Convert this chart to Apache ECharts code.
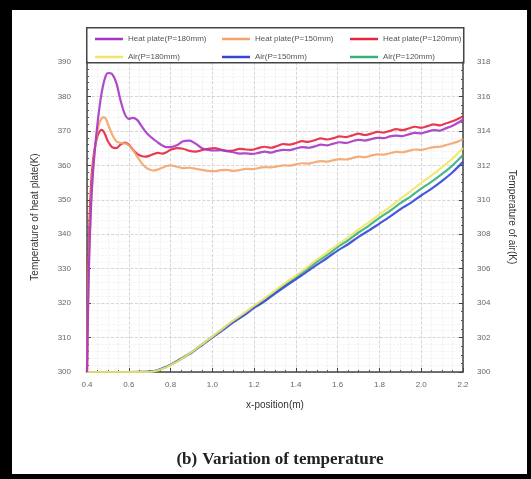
<!DOCTYPE html>
<html><head><meta charset="utf-8">
<script src="https://cdn.jsdelivr.net/npm/echarts@6/dist/echarts.min.js"></script>
<style>
html,body{margin:0;padding:0;background:#000;width:531px;height:479px;overflow:hidden;}
#c{position:absolute;left:12px;top:10px;width:515px;height:464px;background:#fff;}
</style></head>
<body><div id="c"></div>
<script>
const seriesNames = ['Heat plate(P=180mm)','Heat plate(P=150mm)','Heat plate(P=120mm)','Air(P=180mm)','Air(P=150mm)','Air(P=120mm)'];
const xHeat = [0.40,0.405,0.41,0.42,0.43,0.44,0.45,0.46,0.47,0.48,0.49,0.50,0.52,0.54,0.56,0.58,0.60,0.62,0.64,0.66,0.68,0.70,0.72,0.74,0.76,0.78,0.80,0.83,0.86,0.89,0.92,0.95,0.98,1.01,1.04,1.07,1.10,1.13,1.16,1.19,1.22,1.25,1.28,1.31,1.34,1.37,1.40,1.43,1.46,1.49,1.52,1.55,1.58,1.61,1.64,1.67,1.70,1.73,1.76,1.79,1.82,1.85,1.88,1.91,1.94,1.97,2.00,2.03,2.06,2.09,2.12,2.15,2.18,2.20];
const heat180 = [300,318,332,349,359,366,372,377,381,384,386,386.8,386.5,384,379,375,373.5,373.8,373.2,371.5,369.8,368.5,367.5,366.6,365.8,365.3,365.3,365.8,367,367.2,366.3,365,364.5,364.3,364.4,364.1,363.8,363.4,363.5,363.3,363.6,364,363.7,364.2,364.5,364.4,364.9,365.3,365.1,365.5,366,365.8,366.3,366.7,366.5,367,367.4,367.2,367.6,368,367.9,368.4,368.6,368.5,369,369.4,369.3,369.8,370.2,370.1,370.8,371.5,372.5,373.3];
const heat150 = [300,320,334,350,360,366,370,372.5,373.6,374,373.5,372,369,367,366.5,366.4,365.8,364.5,362.5,360.8,359.5,358.8,358.5,358.8,359.3,359.8,360,359.6,359.2,359.3,359,358.7,358.4,358.3,358.6,358.7,358.4,358.6,359,358.9,359.2,359.5,359.4,359.7,360,359.9,360.3,360.6,360.5,360.9,361.2,361.1,361.5,361.8,361.7,362.1,362.5,362.4,362.8,363.2,363.1,363.5,363.9,363.8,364.2,364.6,364.5,364.9,365.3,365.4,365.9,366.4,367,367.6];
const heat120 = [300,325,340,355,362,366,368.5,369.8,370.3,369.8,368.5,367,365.3,365,366,366.6,366,364.5,363.3,362.7,362.5,362.8,363.3,363.6,363.4,363.8,364.5,365,364.8,364.2,364,364.4,364.8,365,364.6,364.2,364.3,364.8,364.6,364.5,365,365.4,365.1,365.6,366.2,366,366.5,367,366.8,367.3,367.8,367.5,367.9,368.4,368.2,368.7,369.2,368.8,369.2,369.7,369.5,370,370.5,370.2,370.7,371.2,370.9,371.4,371.9,371.6,372.2,372.8,373.6,374.3];
const xAir = [0.40,0.50,0.60,0.70,0.74,0.78,0.82,0.86,0.90,0.95,1.00,1.05,1.10,1.15,1.20,1.25,1.30,1.35,1.40,1.45,1.50,1.55,1.60,1.65,1.70,1.75,1.80,1.85,1.90,1.95,2.00,2.05,2.10,2.15,2.20];
const air180 = [300,300,300,300,300.1,300.28,300.52,300.82,301.15,301.6,302.05,302.52,302.98,303.4,303.85,304.28,304.72,305.18,305.6,306.05,306.52,306.95,307.4,307.82,308.28,308.7,309.15,309.58,310.05,310.5,310.98,311.42,311.9,312.4,313.0];
const air150 = [300,300,300,300.02,300.12,300.3,300.55,300.83,301.12,301.55,302,302.43,302.88,303.28,303.72,304.1,304.55,304.98,305.38,305.8,306.22,306.62,307.05,307.42,307.85,308.22,308.62,309.02,309.45,309.82,310.25,310.65,311.1,311.6,312.2];
const air120 = [300,300,300,300.02,300.12,300.3,300.55,300.85,301.15,301.6,302.05,302.5,302.95,303.35,303.8,304.2,304.65,305.1,305.5,305.95,306.4,306.8,307.25,307.65,308.1,308.5,308.95,309.35,309.8,310.2,310.65,311.05,311.5,312.0,312.6];
const colors = ['#a636c4','#f4a46a','#e6263f','#f2e46a','#3446d6','#34b27a'];

const pair = (xs, ys) => xs.map((x, i) => [x, ys[i]]);
const chart = echarts.init(document.getElementById('c'));
const dataSets = [pair(xHeat, heat180), pair(xHeat, heat150), pair(xHeat, heat120), pair(xAir, air180), pair(xAir, air150), pair(xAir, air120)];
const legendPos = [[78,20],[205,20],[333,20],[78,38],[205,38],[333,38]];
const lbl = {color:'#666', fontSize:8, fontFamily:'Liberation Sans, Arial, sans-serif'};
const axLine = {show:true, lineStyle:{color:'#444', width:1.5}};
chart.setOption({
  animation:false,
  color: colors,
  title:{
    text:'{b|(b)} {n|Variation of temperature}',
    left:263, top:436, textAlign:'center',
    textStyle:{rich:{
      b:{fontFamily:'Liberation Serif, Times New Roman, serif', fontWeight:'bold', fontSize:17, color:'#222'},
      n:{fontFamily:'Liberation Serif, Times New Roman, serif', fontSize:17, color:'#222'}
    }}
  },
  legend: seriesNames.map((n, i) => ({
    data:[n], left:legendPos[i][0], top:legendPos[i][1], icon:'rect', itemWidth:28, itemHeight:2.5, itemGap:4,
    textStyle:{color:'#555', fontSize:8, fontFamily:'Liberation Sans, Arial, sans-serif'}
  })),
  graphic:[{type:'rect', left:74, top:17, shape:{width:377, height:35},
    style:{fill:'rgba(0,0,0,0)', stroke:'#444', lineWidth:1.5}, z:100}],
  grid:{left:75, right:64, top:52, bottom:102},
  xAxis:{type:'value', min:0.4, max:2.2, interval:0.2, name:'x-position(m)', nameLocation:'middle', nameGap:28,
    nameTextStyle:{color:'#333', fontSize:10, fontFamily:'Liberation Sans, Arial, sans-serif'},
    axisLine:axLine, axisTick:{inside:true, length:4, lineStyle:{color:'#444'}},
    minorTick:{show:true, splitNumber:4, length:2, lineStyle:{color:'#555'}},
    axisLabel:Object.assign({margin:9, formatter:v=>v.toFixed(1)}, lbl),
    splitLine:{show:true, lineStyle:{color:'#ccc', type:'dashed', width:0.8}},
    minorSplitLine:{show:true, lineStyle:{color:'#e8e8e8', type:'dashed', width:0.6}}
  },
  yAxis:[
    {type:'value', min:300, max:390, interval:10, name:'Temperature of heat plate(K)', nameLocation:'middle', nameGap:47,
     nameTextStyle:{color:'#333', fontSize:10, fontFamily:'Liberation Sans, Arial, sans-serif'},
     axisLine:axLine, axisTick:{inside:true, length:4, lineStyle:{color:'#444'}},
     minorTick:{show:true, splitNumber:5, length:2, lineStyle:{color:'#555'}},
     axisLabel:Object.assign({margin:16}, lbl),
     splitLine:{show:true, lineStyle:{color:'#ccc', type:'dashed', width:0.8}},
     minorSplitLine:{show:true, lineStyle:{color:'#ececec', type:'dashed', width:0.6}}},
    {type:'value', min:300, max:318, interval:2, position:'right', name:'Temperature of air(K)', nameLocation:'middle', nameGap:44, nameRotate:-90,
     nameTextStyle:{color:'#333', fontSize:10, fontFamily:'Liberation Sans, Arial, sans-serif'},
     axisLine:axLine, axisTick:{inside:true, length:4, lineStyle:{color:'#444'}},
     minorTick:{show:true, splitNumber:4, length:2, lineStyle:{color:'#555'}},
     axisLabel:Object.assign({margin:14}, lbl),
     splitLine:{show:false}}
  ],
  series: seriesNames.map((n, i) => ({
    name:n, type:'line', yAxisIndex: i < 3 ? 0 : 1, data:dataSets[i], symbol:'none', smooth:0.3,
    lineStyle:{width:2.2, color:colors[i], opacity:0.9}, itemStyle:{color:colors[i]}, z: 10 - i
  }))
});
</script></body></html>
